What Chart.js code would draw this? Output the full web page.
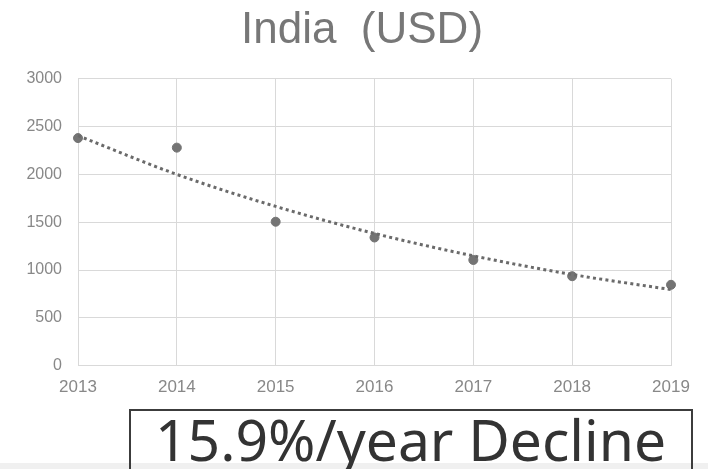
<!DOCTYPE html>
<html>
<head>
<meta charset="utf-8">
<script src="https://cdn.jsdelivr.net/npm/chart.js@4.4.1/dist/chart.umd.min.js"></script>
<style>
    html, body { margin: 0; padding: 0; background: #fff; }
    #wrap { position: relative; width: 708px; height: 469px; overflow: hidden; }
    #strip { position: absolute; left: 0; top: 463px; width: 708px; height: 6px; background: #f0f0f0; }
    #rate {
        position: absolute; left: 129px; top: 409px; width: 564px; height: 80px;
        border: 2px solid #3c3c3c; box-sizing: border-box;
    }
    #rate span {
        position: absolute; left: 24px; top: 0px;
        font-family: "Noto Sans", sans-serif; font-size: 57px; line-height: 57px;
        color: #333; white-space: nowrap;
    }
</style>
</head>
<body>
<div id="wrap">
    <canvas id="indiaChart" width="708" height="469"></canvas>
    <div id="strip"></div>
    <div id="rate"><span>15.9%/year Decline</span></div>
</div>
<script>
const years = ['2013', '2014', '2015', '2016', '2017', '2018', '2019'];
const usdValues = [2380, 2280, 1505, 1340, 1105, 935, 845];
// exponential trend line, read at each year
const trendValues = [2405, 2000, 1665, 1382, 1148, 953, 795];
const yTicks = [0, 500, 1000, 1500, 2000, 2500, 3000];

const ctx = document.getElementById('indiaChart').getContext('2d');
new Chart(ctx, {
    type: 'line',
    data: {
        labels: years,
        datasets: [
            {
                label: 'Trend',
                data: trendValues,
                borderColor: '#6a6a6a',
                borderWidth: 3,
                borderDash: [3, 3.3],
                cubicInterpolationMode: 'monotone',
                pointRadius: 0,
                fill: false
            },
            {
                label: 'India (USD)',
                data: usdValues,
                showLine: false,
                pointRadius: 4.5,
                pointBackgroundColor: '#747474',
                pointBorderColor: '#747474',
                pointBorderWidth: 1
            }
        ]
    },
    options: {
        responsive: false,
        animation: false,
        layout: {
            padding: { left: 16, right: 0, top: 0, bottom: 59 }
        },
        plugins: {
            legend: { display: false },
            tooltip: { enabled: false },
            title: {
                display: true,
                text: 'India  (USD)',
                color: '#777',
                font: { family: 'Liberation Sans, Arial', size: 44, weight: 'normal' },
                padding: { top: 4, bottom: 22 }
            }
        },
        scales: {
            x: {
                grid: { color: '#d9d9d9', drawTicks: false },
                border: { color: '#d9d9d9' },
                ticks: {
                    color: '#888',
                    font: { family: 'Liberation Sans, Arial', size: 17 },
                    padding: 12,
                    maxRotation: 0
                }
            },
            y: {
                min: 0,
                max: 3000,
                afterFit: s => { s.width = 62; },
                afterBuildTicks: s => { s.ticks = yTicks.map(v => ({ value: v })); },
                grid: { color: '#d9d9d9', drawTicks: false },
                border: { color: '#d9d9d9' },
                ticks: {
                    color: '#888',
                    font: { family: 'Liberation Sans, Arial', size: 16 },
                    padding: 16,
                    callback: v => String(v)
                }
            },
            // empty right-hand axis that keeps room after the last year
            yRight: {
                position: 'right',
                display: true,
                afterFit: s => { s.width = 37; },
                grid: { display: false },
                border: { display: false },
                ticks: { display: false }
            }
        }
    }
});
</script>
</body>
</html>
